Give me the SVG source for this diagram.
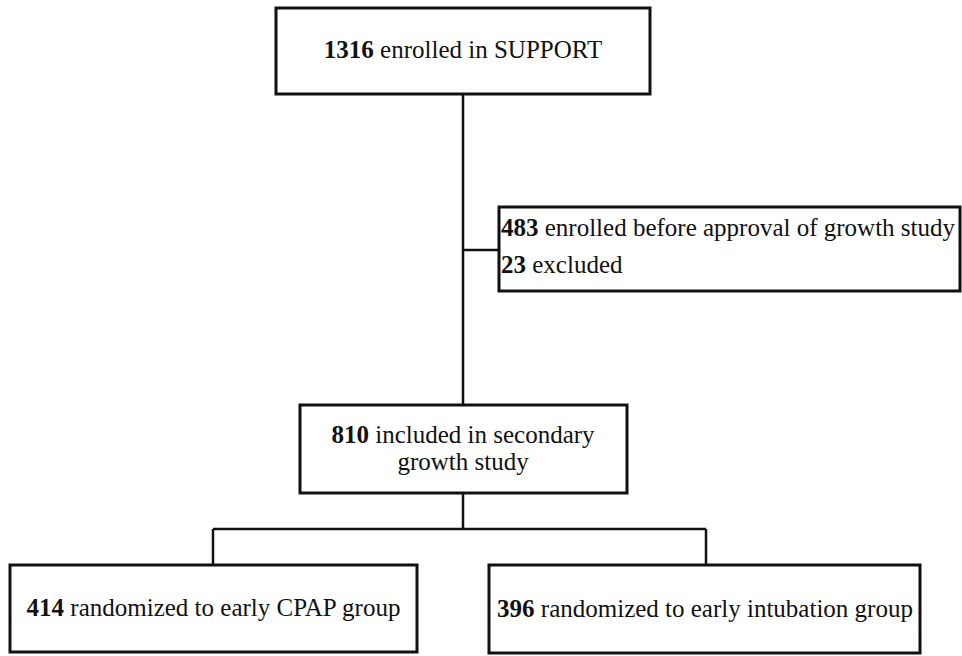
<svg xmlns="http://www.w3.org/2000/svg" width="962" height="656" viewBox="0 0 962 656">
<style>
.box{fill:#fff;stroke:#111;stroke-width:3}
.ln{fill:none;stroke:#111;stroke-width:2.5}
text{font-family:'Liberation Serif','DejaVu Serif',serif;font-size:25px;fill:#111}
.b{font-weight:bold}
.c{text-anchor:middle}
</style>
<rect width="962" height="656" fill="#fff"/>
<g id="connectors">
<path class="ln" d="M463,94 V405"/>
<path class="ln" d="M463,250 H499"/>
<path class="ln" d="M463,493 V529"/>
<path class="ln" d="M213,529 H706"/>
<path class="ln" d="M213,529 V565"/>
<path class="ln" d="M706,529 V565"/>
</g>
<g id="enrolled">
<rect class="box" x="276" y="8" width="374" height="86"/>
<text class="c" x="463" y="58"><tspan class="b">1316</tspan> enrolled in SUPPORT</text>
</g>
<g id="excluded">
<rect class="box" x="499" y="207" width="461" height="84"/>
<text x="501" y="236"><tspan class="b">483</tspan> enrolled before approval of growth study</text>
<text x="501" y="273"><tspan class="b">23</tspan> excluded</text>
</g>
<g id="included">
<rect class="box" x="300" y="405" width="327" height="88"/>
<text class="c" x="463" y="443"><tspan class="b">810</tspan> included in secondary</text>
<text class="c" x="463" y="470">growth study</text>
</g>
<g id="cpap">
<rect class="box" x="10" y="565" width="407" height="87"/>
<text class="c" x="213.5" y="616"><tspan class="b">414</tspan> randomized to early CPAP group</text>
</g>
<g id="intubation">
<rect class="box" x="489" y="565" width="431" height="88"/>
<text class="c" x="705" y="617"><tspan class="b">396</tspan> randomized to early intubation group</text>
</g>
</svg>
